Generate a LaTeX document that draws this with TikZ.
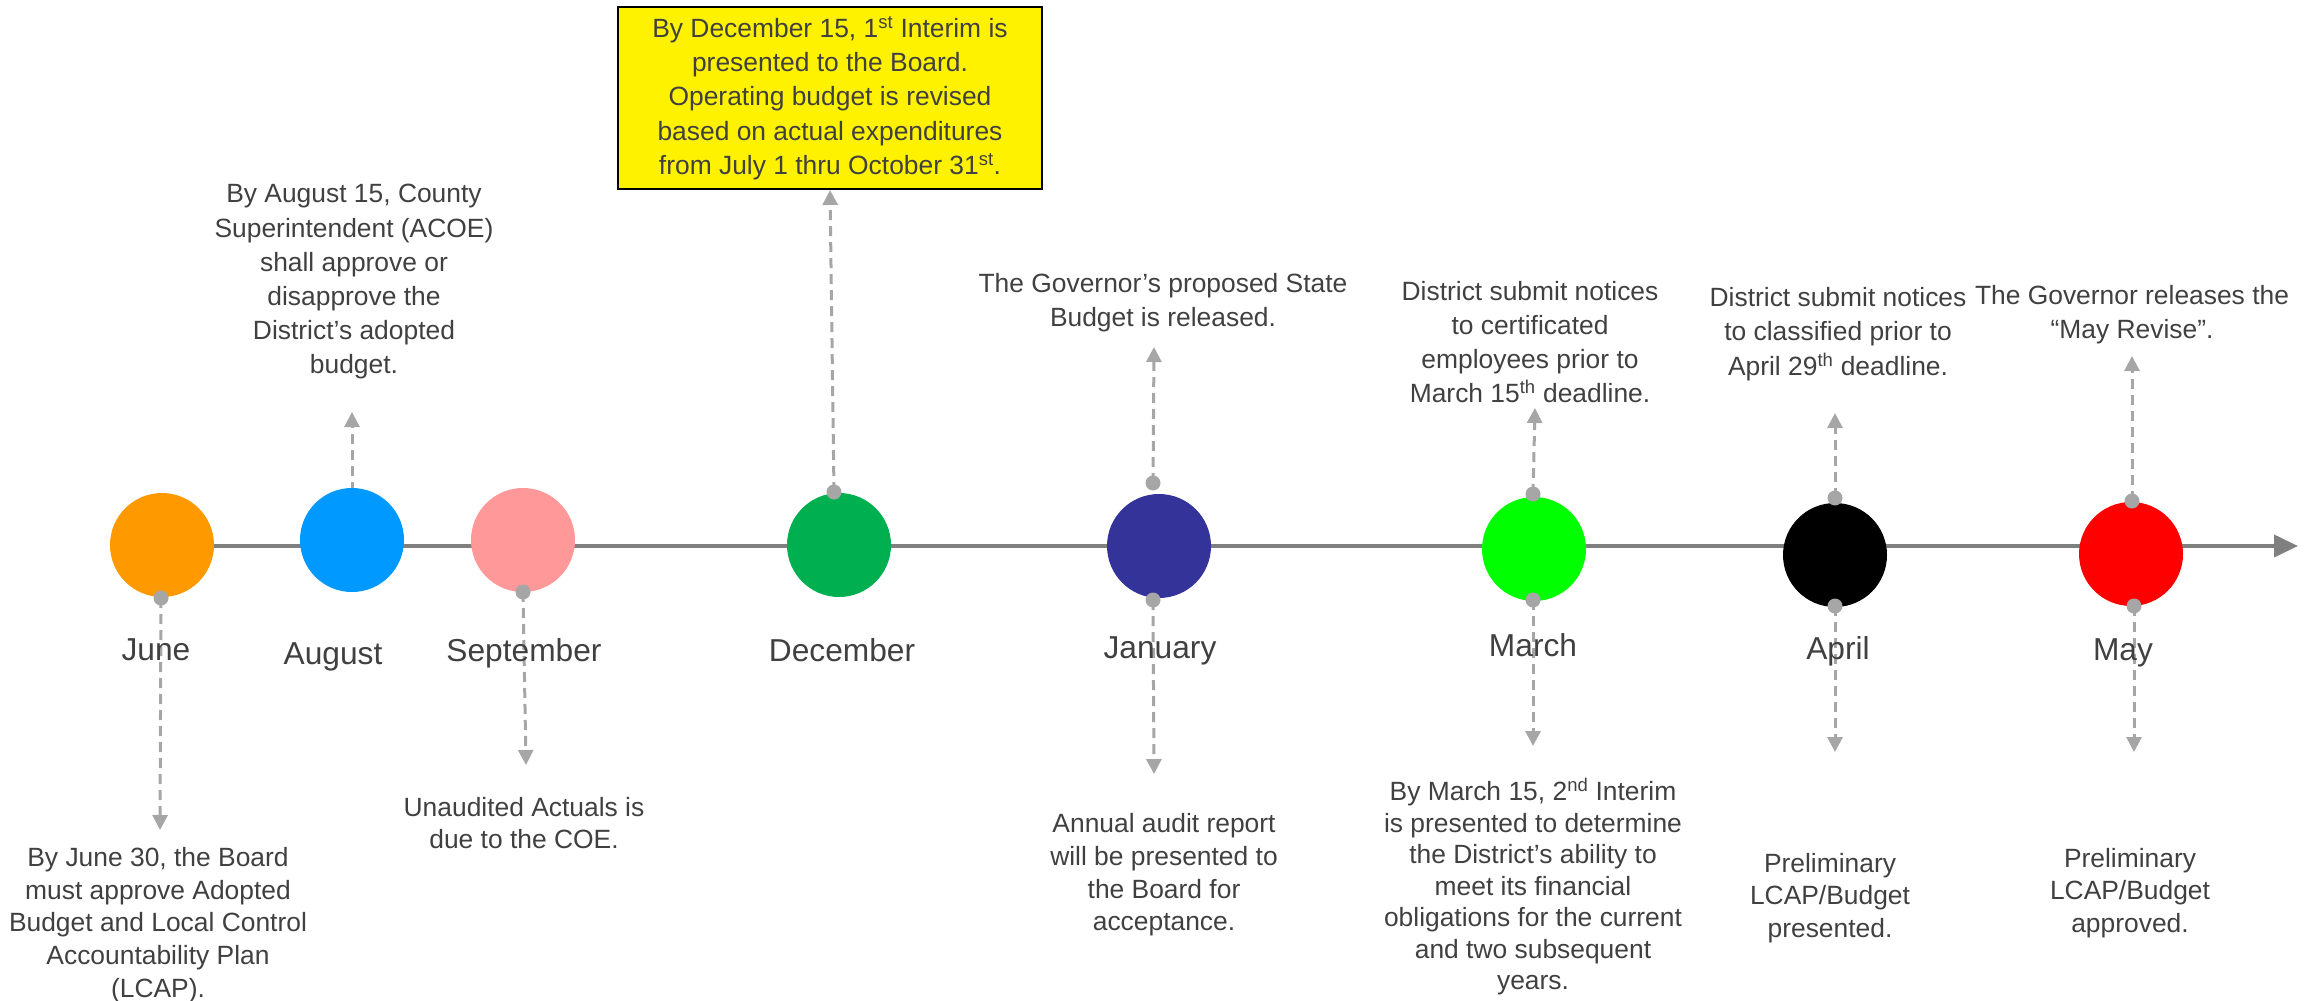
\documentclass[tikz,border=0pt]{standalone}
\usepackage{fontspec}
\setmainfont{Liberation Sans}
\usetikzlibrary{arrows.meta}
\definecolor{txt}{HTML}{404040}
\definecolor{axisgrey}{HTML}{808080}
\definecolor{conn}{HTML}{A6A6A6}
\definecolor{cJun}{HTML}{FF9900}
\definecolor{cAug}{HTML}{0099FF}
\definecolor{cSep}{HTML}{FF9999}
\definecolor{cDec}{HTML}{00B050}
\definecolor{cJan}{HTML}{333399}
\definecolor{cMar}{HTML}{00FF00}
\definecolor{cApr}{HTML}{000000}
\definecolor{cMay}{HTML}{FF0000}
\begin{document}
\begin{tikzpicture}[x=1pt,y=-1pt,
  month/.style={circle,minimum size=104pt,inner sep=0pt,draw=none},
  pin/.style={circle,fill=conn,minimum size=15pt,inner sep=0pt,draw=none},
  conarrow/.style={draw=conn,line width=3pt,dash pattern=on 10pt off 6pt,-{Triangle[width=15pt,length=15pt]}},
  mlabel/.style={text=txt,font=\fontsize{31.7}{38}\selectfont,inner sep=0pt},
  note/.style={text=txt,font=\fontsize{26.4}{32.6}\selectfont,align=center,inner sep=0pt},
  notetight/.style={text=txt,font=\fontsize{26.4}{31.5}\selectfont,align=center,inner sep=0pt},
  noteup/.style={text=txt,font=\fontsize{26.4}{34.2}\selectfont,align=center,inner sep=0pt},
  yellowbox/.style={draw=black,line width=2pt,fill=yellow,minimum width=424pt,minimum height=182pt,inner sep=0pt,align=center,text=txt,font=\fontsize{26.4}{34.3}\selectfont}
]
\useasboundingbox (0,0) rectangle (2311,1001);
% timeline
\coordinate (tlend) at (2298,546);
\coordinate (tlstart) at (162,546);
\draw[axisgrey,line width=4pt,-{Triangle[width=22pt,length=24pt]}] (tlstart) -- (tlend);

% arrow tips
\coordinate (tJun) at (160,830);
\coordinate (tAug) at (352,412);
\coordinate (tSep) at (526,765);
\coordinate (tDec) at (830,190);
\coordinate (tJanU) at (1154,347);
\coordinate (tJanD) at (1154,774);
\coordinate (tMarU) at (1535,408);
\coordinate (tMarD) at (1533,746);
\coordinate (tAprU) at (1835,413);
\coordinate (tAprD) at (1835,752);
\coordinate (tMayU) at (2132,356);
\coordinate (tMayD) at (2134,752);

% pin coordinates
\coordinate (pJun) at (161,598);
\coordinate (pAug) at (352,492);
\coordinate (pSep) at (523,592);
\coordinate (pDec) at (834,492);
\coordinate (pJanU) at (1153,483);
\coordinate (pJanD) at (1153,600);
\coordinate (pMarU) at (1533,494);
\coordinate (pMarD) at (1533,600);
\coordinate (pAprU) at (1835,498);
\coordinate (pAprD) at (1835,606);
\coordinate (pMayU) at (2132,501);
\coordinate (pMayD) at (2134,606);

% connectors (drawn under circles)
\draw[conarrow] (pJun) -- (tJun);
\draw[conarrow] (pAug) -- (tAug);
\draw[conarrow] (pSep) -- (tSep);
\draw[conarrow] (pDec) -- (tDec);
\draw[conarrow] (pJanU) -- (tJanU);
\draw[conarrow] (pJanD) -- (tJanD);
\draw[conarrow] (pMarU) -- (tMarU);
\draw[conarrow] (pMarD) -- (tMarD);
\draw[conarrow] (pAprU) -- (tAprU);
\draw[conarrow] (pAprD) -- (tAprD);
\draw[conarrow] (pMayU) -- (tMayU);
\draw[conarrow] (pMayD) -- (tMayD);

% month circles
\node[month,fill=cJun] (Jun) at (162,545) {};
\node[month,fill=cAug] (Aug) at (352,540) {};
\node[month,fill=cSep] (Sep) at (523,540) {};
\node[month,fill=cDec] (Dec) at (839,545) {};
\node[month,fill=cJan] (Jan) at (1159,546) {};
\node[month,fill=cMar] (Mar) at (1534,549) {};
\node[month,fill=cApr] (Apr) at (1835,555) {};
\node[month,fill=cMay] (May) at (2131,554) {};

% pins on top
\node[pin] (dJun) at (pJun) {};
\node[pin] (dSep) at (pSep) {};
\node[pin] (dDec) at (pDec) {};
\node[pin] (dJanU) at (pJanU) {};
\node[pin] (dJanD) at (pJanD) {};
\node[pin] (dMarU) at (pMarU) {};
\node[pin] (dMarD) at (pMarD) {};
\node[pin] (dAprU) at (pAprU) {};
\node[pin] (dAprD) at (pAprD) {};
\node[pin] (dMayU) at (pMayU) {};
\node[pin] (dMayD) at (pMayD) {};

% month labels
\node[mlabel] (lJun) at (156,650) {June};
\node[mlabel] (lAug) at (333,657) {August};
\node[mlabel] (lSep) at (524,653) {September};
\node[mlabel] (lDec) at (842,650) {December};
\node[mlabel] (lJan) at (1160,651) {January};
\node[mlabel] (lMar) at (1533,645) {March};
\node[mlabel] (lApr) at (1838,651) {April};
\node[mlabel] (lMay) at (2123,653) {May};

% notes
\node[note] (nJun) at (158,925) {By June 30, the Board\\must approve Adopted\\Budget and Local Control\\Accountability Plan\\(LCAP).};
\node[noteup] (nAug) at (354,282) {By August 15, County\\Superintendent (ACOE)\\shall approve or\\disapprove the\\District’s adopted\\budget.};
\node[note] (nSep) at (524,823) {Unaudited Actuals is\\due to the COE.};
\node[yellowbox] (nDec) at (830,98) {By December 15, 1\textsuperscript{st} Interim is\\presented to the Board.\\Operating budget is revised\\based on actual expenditures\\from July 1 thru October 31\textsuperscript{st}.};
\node[noteup] (nJanU) at (1163,303) {The Governor’s proposed State\\Budget is released.};
\node[note] (nJanD) at (1164,875) {Annual audit report\\will be presented to\\the Board for\\acceptance.};
\node[noteup] (nMarU) at (1530,342) {District submit notices\\to certificated\\employees prior to\\March 15\textsuperscript{th} deadline.};
\node[notetight] (nMarD) at (1533,887) {By March 15, 2\textsuperscript{nd} Interim\\is presented to determine\\the District’s ability to\\meet its financial\\obligations for the current\\and two subsequent\\years.};
\node[noteup] (nAprU) at (1838,334) {District submit notices\\to classified prior to\\April 29\textsuperscript{th} deadline.};
\node[note] (nAprD) at (1830,898) {Preliminary\\LCAP/Budget\\presented.};
\node[noteup] (nMayU) at (2132,315) {The Governor releases the\\“May Revise”.};
\node[note] (nMayD) at (2130,893) {Preliminary\\LCAP/Budget\\approved.};
\end{tikzpicture}
\end{document}
